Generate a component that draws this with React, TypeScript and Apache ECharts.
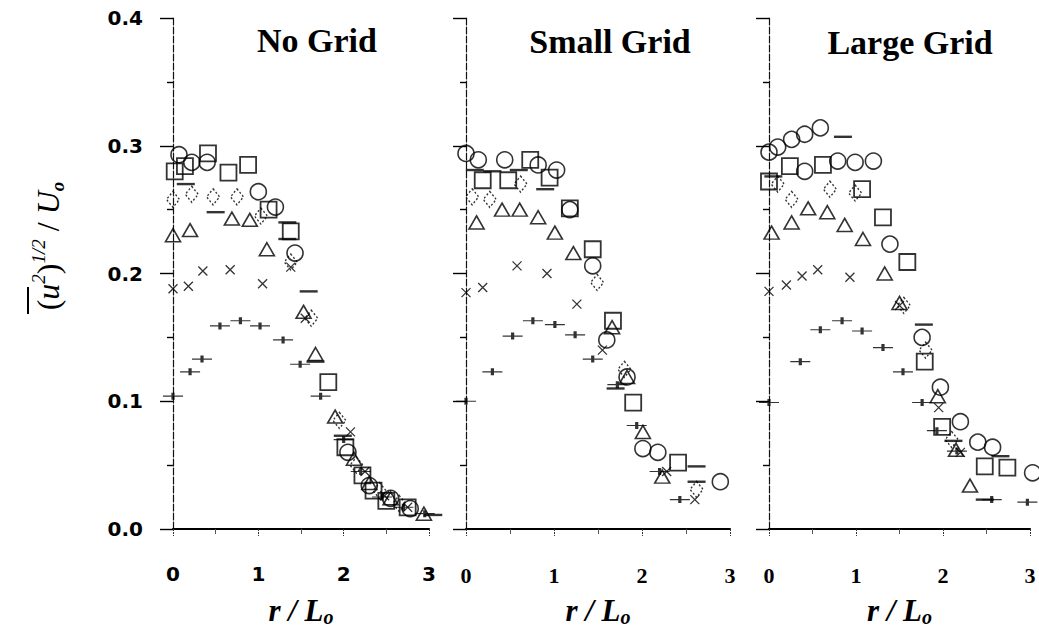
import React, { useEffect, useRef } from "react";
import * as echarts from "echarts";

// ---------- data: [r/Lo, (u'^2)^1/2/Uo] ----------
const panelTitles = ["No Grid", "Small Grid", "Large Grid"];
const xTicks = [0, 1, 2, 3];
const yTicks = [0.0, 0.1, 0.2, 0.3, 0.4];

const noGridCircle = [[0.07,0.293],[0.22,0.287],[0.40,0.287],[1.00,0.264],[1.20,0.252],[1.43,0.216],[2.05,0.060],[2.30,0.034],[2.55,0.024],[2.78,0.016]];
const noGridSquare = [[0.02,0.280],[0.14,0.284],[0.41,0.294],[0.65,0.279],[0.88,0.285],[1.12,0.250],[1.38,0.233],[1.82,0.115],[2.02,0.064],[2.22,0.042],[2.35,0.030],[2.50,0.022],[2.75,0.017]];
const noGridDiamond = [[0.00,0.258],[0.22,0.262],[0.47,0.260],[0.75,0.260],[1.03,0.245],[1.38,0.209],[1.62,0.165],[1.95,0.085],[2.15,0.050],[2.42,0.030],[2.65,0.020]];
const noGridTriangle = [[0.00,0.230],[0.20,0.234],[0.69,0.243],[0.90,0.242],[1.10,0.219],[1.53,0.170],[1.67,0.137],[1.90,0.088],[2.12,0.055],[2.30,0.036],[2.55,0.024],[2.94,0.012]];
const noGridCross = [[0.00,0.188],[0.18,0.190],[0.35,0.202],[0.67,0.203],[1.05,0.192],[1.38,0.205],[1.55,0.165],[2.08,0.076],[2.25,0.045],[2.48,0.026],[2.75,0.017]];
const noGridPlus = [[0.00,0.104],[0.20,0.123],[0.34,0.133],[0.55,0.159],[0.79,0.163],[1.02,0.159],[1.29,0.148],[1.49,0.129],[1.73,0.104],[2.00,0.070],[2.20,0.045],[2.45,0.025],[2.70,0.017],[2.95,0.012]];
const noGridDash = [[0.15,0.270],[0.50,0.248],[1.34,0.240],[1.34,0.227],[1.59,0.186],[1.67,0.131],[1.99,0.073],[3.05,0.011]];

const smallGridCircle = [[0.00,0.294],[0.14,0.289],[0.44,0.289],[0.82,0.285],[1.03,0.281],[1.18,0.250],[1.44,0.206],[1.60,0.148],[1.83,0.119],[2.01,0.063],[2.18,0.060],[2.89,0.037]];
const smallGridSquare = [[0.19,0.273],[0.48,0.273],[0.73,0.289],[0.95,0.275],[1.18,0.251],[1.44,0.219],[1.67,0.163],[1.90,0.099],[2.41,0.052]];
const smallGridDiamond = [[0.07,0.260],[0.27,0.258],[0.62,0.270],[1.49,0.193],[1.80,0.125],[2.62,0.031]];
const smallGridTriangle = [[0.12,0.240],[0.41,0.250],[0.61,0.250],[0.82,0.244],[1.01,0.232],[1.22,0.216],[1.66,0.158],[1.83,0.119],[2.01,0.076],[2.23,0.041]];
const smallGridCross = [[0.00,0.185],[0.19,0.189],[0.58,0.206],[0.92,0.200],[1.26,0.176],[1.55,0.140],[2.28,0.045],[2.60,0.023]];
const smallGridPlus = [[0.00,0.100],[0.30,0.123],[0.53,0.151],[0.76,0.163],[1.01,0.160],[1.24,0.152],[1.44,0.133],[1.72,0.113],[1.94,0.081],[2.20,0.045],[2.43,0.023]];
const smallGridDash = [[0.10,0.281],[0.30,0.280],[0.60,0.281],[0.90,0.266],[1.70,0.110],[2.62,0.049],[2.62,0.037]];

const largeGridCircle = [[0.00,0.295],[0.10,0.299],[0.26,0.305],[0.41,0.309],[0.59,0.314],[0.41,0.280],[0.79,0.288],[0.99,0.287],[1.20,0.288],[1.39,0.223],[1.76,0.150],[1.97,0.111],[2.20,0.084],[2.40,0.068],[2.57,0.064],[3.03,0.044]];
const largeGridSquare = [[0.00,0.272],[0.24,0.284],[0.62,0.285],[1.07,0.266],[1.31,0.244],[1.59,0.209],[1.79,0.131],[1.99,0.080],[2.48,0.049],[2.74,0.048]];
const largeGridDiamond = [[0.10,0.270],[0.26,0.258],[0.70,0.266],[0.99,0.263],[1.55,0.175],[1.80,0.140],[2.10,0.070]];
const largeGridTriangle = [[0.03,0.232],[0.26,0.240],[0.45,0.251],[0.67,0.248],[0.87,0.238],[1.08,0.227],[1.33,0.200],[1.50,0.177],[1.94,0.104],[2.15,0.062],[2.31,0.034]];
const largeGridCross = [[0.00,0.186],[0.20,0.191],[0.38,0.198],[0.56,0.203],[0.93,0.197],[1.50,0.175],[1.95,0.095],[2.20,0.060]];
const largeGridPlus = [[0.00,0.099],[0.36,0.131],[0.59,0.156],[0.84,0.163],[1.07,0.155],[1.31,0.142],[1.54,0.123],[1.76,0.099],[1.93,0.077],[2.16,0.061],[2.56,0.023],[2.97,0.021]];
const largeGridDash = [[0.05,0.276],[0.85,0.307],[1.78,0.160],[2.12,0.069],[2.48,0.023],[2.66,0.057]];

const panels = [
  { circle: noGridCircle, square: noGridSquare, diamond: noGridDiamond, triangle: noGridTriangle, cross: noGridCross, plus: noGridPlus, dash: noGridDash },
  { circle: smallGridCircle, square: smallGridSquare, diamond: smallGridDiamond, triangle: smallGridTriangle, cross: smallGridCross, plus: smallGridPlus, dash: smallGridDash },
  { circle: largeGridCircle, square: largeGridSquare, diamond: largeGridDiamond, triangle: largeGridTriangle, cross: largeGridCross, plus: largeGridPlus, dash: largeGridDash },
];

// ---------- styles ----------
const gridBoxes = [
  { left: 173, top: 18, width: 256, height: 512 },
  { left: 466, top: 18, width: 264, height: 512 },
  { left: 769, top: 18, width: 261, height: 512 },
];
const titlePos = [[317, 40], [610, 41], [910, 42]];
const SERIF = "'Liberation Serif', 'Times New Roman', serif";
const SANS = "'DejaVu Sans', sans-serif";

const markerStyles: Record<string, any> = {
  circle: { symbol: "circle", symbolSize: 16, itemStyle: { color: "none", borderColor: "#000", borderWidth: 1.6 } },
  square: { symbol: "rect", symbolSize: 16, itemStyle: { color: "none", borderColor: "#000", borderWidth: 1.8 } },
  diamond: { symbol: "diamond", symbolSize: [13, 16], itemStyle: { color: "none", borderColor: "#000", borderWidth: 1.4, borderType: [2, 2] } },
  triangle: { symbol: "triangle", symbolSize: [15, 13], itemStyle: { color: "none", borderColor: "#000", borderWidth: 1.6 } },
  cross: { symbol: "path://M0,0L10,10M10,0L0,10", symbolSize: 9, itemStyle: { color: "none", borderColor: "#000", borderWidth: 1.3 } },
  plus: { symbol: "path://M0,4L20,4M10,1L10,7", symbolSize: [20, 7], itemStyle: { color: "none", borderColor: "#000", borderWidth: 1.9 } },
  dash: { symbol: "rect", symbolSize: [18, 2.4], itemStyle: { color: "#000", borderWidth: 0 } },
};

export default function App() {
  const ref = useRef<HTMLDivElement>(null);
  useEffect(() => {
    if (!ref.current) return;
    const chart = echarts.init(ref.current, null, { renderer: "svg" });

    const grid = gridBoxes.map((g) => ({ ...g, containLabel: false }));
    const xAxis = gridBoxes.map((_, i) => ({
      type: "value",
      gridIndex: i,
      min: xTicks[0],
      max: xTicks[xTicks.length - 1],
      interval: 1,
      axisLine: { show: true, onZero: false, lineStyle: { color: "#000", width: 2.2 } },
      axisTick: { show: true, inside: false, length: 7, lineStyle: { color: "#333", width: 1, type: [2, 1] } },
      minorTick: { show: true, splitNumber: 2, length: 5, lineStyle: { color: "#555", width: 1 } },
      splitLine: { show: false },
      axisLabel: {
        margin: 35,
        color: "#000",
        fontSize: i === 0 ? 20 : 22,
        fontWeight: "bold",
        fontFamily: i === 0 ? SANS : SERIF,
      },
      name: "{m|r / L}{s|o}",
      nameLocation: "middle",
      nameGap: 64,
      nameTextStyle: {
        rich: {
          m: { fontFamily: SERIF, fontStyle: "italic", fontWeight: "bold", fontSize: 31, color: "#000", lineHeight: 34 },
          s: { fontFamily: SERIF, fontStyle: "italic", fontWeight: "bold", fontSize: 20, color: "#000", lineHeight: 16, verticalAlign: "bottom" },
        },
      },
    }));
    const yAxis = gridBoxes.map((_, i) => ({
      type: "value",
      gridIndex: i,
      min: yTicks[0],
      max: yTicks[yTicks.length - 1],
      interval: 0.1,
      axisLine: { show: true, onZero: false, lineStyle: { color: "#111", width: 1.2, type: [7, 2] } },
      axisTick: { show: true, inside: false, length: 13, lineStyle: { color: "#000", width: 1.4 } },
      minorTick: { show: true, splitNumber: 2, length: 6, lineStyle: { color: "#000", width: 1.4 } },
      splitLine: { show: false },
      axisLabel: {
        show: i === 0,
        margin: 30,
        color: "#000",
        fontSize: 20,
        fontWeight: "bold",
        fontFamily: SANS,
        formatter: (v: number) => v.toFixed(1),
      },
    }));

    const series: any[] = [];
    panels.forEach((p, i) => {
      (Object.keys(markerStyles) as string[]).forEach((k) => {
        series.push({
          type: "scatter",
          name: `${panelTitles[i]}-${k}`,
          xAxisIndex: i,
          yAxisIndex: i,
          data: (p as any)[k],
          clip: false,
          ...markerStyles[k],
        });
      });
    });

    const graphic: any[] = panelTitles.map((t, i) => ({
      type: "text",
      x: titlePos[i][0],
      y: titlePos[i][1],
      style: {
        text: t,
        fontFamily: SERIF,
        fontWeight: "bold",
        fontSize: 34,
        fill: "#000",
        align: "center",
        verticalAlign: "middle",
      },
    }));
    graphic.push({
      type: "text",
      x: 48,
      y: 246,
      rotation: Math.PI / 2,
      style: {
        text: "{p|(}{i|u}{sup|2}{p|)}{sup|1/2}{p| / }{i|U}{sub|o}",
        align: "center",
        verticalAlign: "middle",
        rich: {
          p: { fontFamily: SERIF, fontSize: 32, fill: "#000", lineHeight: 38 },
          i: { fontFamily: SERIF, fontStyle: "italic", fontSize: 32, fill: "#000", lineHeight: 38 },
          sup: { fontFamily: SERIF, fontStyle: "italic", fontSize: 19, fill: "#000", lineHeight: 20, verticalAlign: "top" },
          sub: { fontFamily: SERIF, fontStyle: "italic", fontWeight: "bold", fontSize: 19, fill: "#000", lineHeight: 16, verticalAlign: "bottom" },
        },
      },
    });
    graphic.push({
      type: "line",
      shape: { x1: 28, y1: 287, x2: 28, y2: 314 },
      style: { stroke: "#000", lineWidth: 2 },
    });

    chart.setOption({
      animation: false,
      backgroundColor: "#fff",
      grid,
      xAxis,
      yAxis,
      series,
      graphic,
    });
    return () => chart.dispose();
  }, []);
  return (
    <div
      ref={ref}
      style={{ position: "absolute", left: 0, top: 0, width: 1039, height: 632 }}
    />
  );
}
